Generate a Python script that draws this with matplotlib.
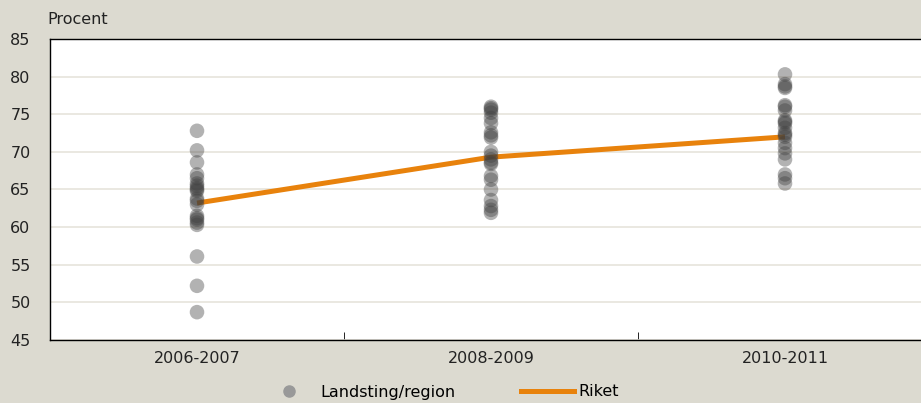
import numpy as np
import matplotlib.pyplot as plt
from matplotlib.lines import Line2D

# Data
perioder = ['2006-2007', '2008-2009', '2010-2011']
landsting_0607 = [72.8, 70.2, 68.6, 67.0, 66.5, 65.8, 65.5, 65.2, 65.0, 64.8, 63.8,
                  63.5, 63.0, 61.5, 61.2, 61.0, 60.6, 60.3, 56.1, 52.2, 48.7]
landsting_0809 = [76.0, 75.8, 75.6, 75.2, 74.5, 73.8, 72.6, 72.2, 71.9, 70.0, 69.5,
                  69.0, 68.6, 68.4, 66.8, 66.3, 65.0, 63.6, 62.8, 62.3, 61.9]
landsting_1011 = [80.3, 79.0, 78.7, 78.5, 76.2, 75.5, 74.2, 73.8, 73.2, 72.5, 72.0,
                  71.2, 70.5, 69.8, 69.0, 67.0, 66.5, 65.8, 76.0, 74.0, 72.3]
riket = [63.2, 69.3, 72.0]

bg = '#dcdad0'
orange = '#e8820c'
fs = 11.5

fig = plt.figure(figsize=(9.21, 4.03), dpi=100)
fig.patch.set_facecolor(bg)
ax = fig.add_axes([50/921, 63/403, 882/921, 301/403])
ax.set_facecolor('white')

ax.plot(range(3), riket, color=orange, lw=3.6, zorder=2, solid_capstyle='butt')
for i, vals in enumerate([landsting_0607, landsting_0809, landsting_1011]):
    ax.scatter([i]*len(vals), vals, s=110, color='#404040', alpha=0.4,
               edgecolors='none', zorder=3)

ax.set_xlim(-0.5, 2.5)
ax.set_ylim(45, 85)
ax.set_yticks(np.arange(45, 86, 5))
ax.yaxis.grid(True, color='#e6e4dc', lw=1.2)
ax.set_axisbelow(True)
ax.tick_params(axis='y', length=0, labelsize=fs, pad=14, colors='#222222')
ax.set_xticks(range(3))
ax.set_xticklabels(perioder)
ax.set_xticks([0.5, 1.5], minor=True)
ax.tick_params(axis='x', which='major', length=0, labelsize=fs, pad=8, colors='#222222')
ax.tick_params(axis='x', which='minor', direction='in', length=6, color='black')
for s in ['left', 'bottom', 'top']:
    ax.spines[s].set_color('black')
    ax.spines[s].set_linewidth(1)
ax.spines['right'].set_visible(False)

fig.text(47/921, 1 - 20/403, 'Procent', fontsize=fs, color='#222222', va='center')

handles = [Line2D([], [], marker='o', ls='none', color='#999999', markersize=8),
           Line2D([], [], color=orange, lw=3.6)]
fig.legend(handles, ['Landsting/region', 'Riket'], loc='center',
           bbox_to_anchor=(441/921, 1 - 392/403), ncol=2, frameon=False,
           fontsize=fs, columnspacing=4.1, handlelength=3.3, handletextpad=0.3)

fig.savefig('out.png', dpi=100, facecolor=bg)
